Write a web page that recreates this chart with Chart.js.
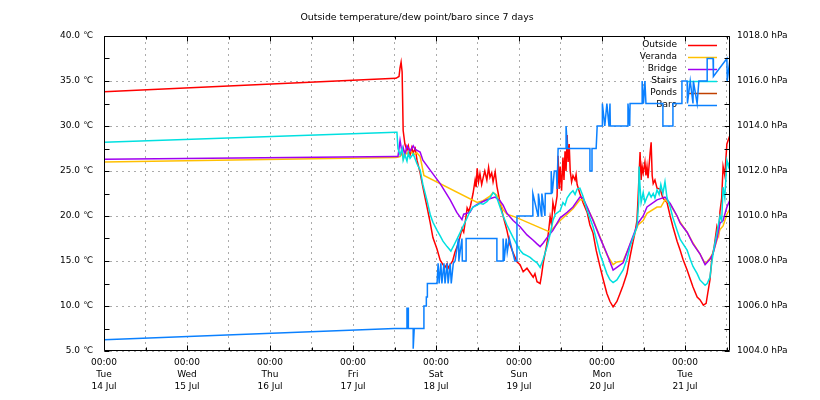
<!DOCTYPE html>
<html>
<head>
<meta charset="utf-8">
<script src="https://cdn.jsdelivr.net/npm/chart.js@4.4.1/dist/chart.umd.min.js"></script>
<style>
body { margin: 0; background: #fff; }
</style>
</head>
<body>
<canvas id="chart" width="820" height="400"></canvas>
<script>
// hours since Tue 14 Jul 00:00
var outsideHours = [0, 84.4, 85.3, 85.6, 85.9, 86.2, 86.5, 87.0, 87.6, 88.0, 88.5, 89.0, 89.4, 90.0, 90.5, 91.4, 92.2, 93.4, 94.3, 95.1, 96.3, 97.2, 98.0, 98.6, 99.2, 99.5, 100.1, 100.8, 101.5, 102.3, 102.9, 103.5, 104.0, 104.7, 105.0, 105.5, 106.0, 106.7, 107.3, 107.6, 107.9, 108.3, 108.7, 109.2, 109.6, 110.1, 110.7, 111.2, 111.6, 112.1, 112.5, 113.1, 113.6, 114.5, 115.4, 116.5, 117.4, 118.3, 119.4, 120.3, 121.2, 122.3, 123.2, 124.1, 124.6, 125.2, 126.1, 126.5, 127.0, 127.6, 128.1, 128.6, 129.0, 129.4, 129.8, 130.3, 131.0, 131.3, 131.6, 131.9, 132.3, 132.7, 133.0, 133.3, 133.6, 133.9, 134.2, 134.5, 134.8, 135.2, 135.6, 136.2, 136.5, 136.8, 137.6, 138.5, 139.7, 140.5, 141.4, 142.3, 143.4, 144.3, 145.4, 146.3, 147.2, 148.3, 149.2, 150.1, 151.2, 152.1, 153.0, 153.5, 154.1, 154.4, 154.7, 155.0, 155.3, 155.6, 155.9, 156.4, 156.7, 157.0, 157.3, 157.9, 158.2, 158.5, 158.8, 159.3, 159.9, 160.8, 161.6, 162.8, 163.7, 164.5, 165.7, 166.6, 167.4, 168.6, 169.5, 170.3, 171.5, 172.3, 173.3, 174.1, 174.6, 175.2, 175.8, 176.4, 177.2, 177.7, 178.1, 178.6, 179.0, 179.5, 180.1, 181.0];
var outsideTemp = [33.8, 35.3, 35.5, 36.5, 37.1, 36.0, 29.5, 28.0, 27.3, 27.8, 26.8, 27.6, 27.0, 27.5, 26.2, 24.8, 23.2, 21.0, 19.3, 17.6, 16.3, 15.1, 14.6, 14.3, 14.7, 14.2, 14.6, 15.0, 16.0, 16.8, 17.6, 18.6, 18.2, 20.0, 20.9, 20.5, 21.2, 22.5, 24.0, 23.2, 25.3, 23.8, 24.7, 23.5, 24.2, 25.0, 24.0, 25.4, 24.3, 24.8, 23.8, 24.9, 23.3, 21.5, 20.0, 18.4, 16.8, 15.9, 14.9, 14.6, 13.8, 14.2, 13.7, 13.2, 13.6, 12.7, 12.5, 13.4, 14.8, 16.0, 17.0, 18.5, 19.9, 19.0, 21.5, 20.5, 22.2, 26.7, 23.0, 25.5, 22.8, 26.5, 24.0, 27.2, 25.0, 29.0, 26.0, 28.0, 25.0, 23.8, 24.5, 24.0, 24.6, 23.5, 22.5, 21.5, 20.4, 19.0, 18.1, 16.2, 14.4, 13.0, 11.4, 10.5, 9.9, 10.5, 11.4, 12.3, 13.6, 15.5, 17.2, 18.1, 19.5, 21.8, 24.5, 27.1, 24.0, 25.5, 24.8, 26.0, 24.5, 25.5, 24.2, 27.0, 28.2, 24.5, 23.6, 24.0, 23.1, 23.0, 22.0, 21.5, 20.0, 18.8, 17.2, 16.2, 15.2, 14.0, 13.0, 12.1, 11.0, 10.7, 10.1, 10.3, 11.5, 12.9, 15.5, 16.5, 18.8, 18.0, 20.5, 22.0, 25.5, 24.5, 28.0, 29.0];

var verandaHours = [0, 84.4, 85.6, 86.2, 86.5, 87.0, 87.6, 88.5, 89.4, 90.5, 91.4, 92.5, 107.9, 109.6, 111.6, 112.5, 113.6, 114.5, 115.4, 116.5, 118.8, 129.0, 129.8, 131.9, 133.9, 135.6, 137.6, 138.5, 139.7, 141.4, 143.4, 145.4, 147.2, 148.3, 150.1, 152.1, 154.4, 155.9, 157.0, 159.9, 161.0, 162.2, 163.7, 165.7, 166.6, 168.6, 170.3, 172.3, 173.8, 175.2, 176.1, 177.2, 178.1, 179.0, 180.1, 181.0];
var verandaTemp = [26.0, 26.5, 26.6, 27.0, 26.4, 27.2, 26.9, 27.3, 26.8, 27.0, 26.6, 24.5, 21.5, 21.7, 22.2, 22.6, 22.3, 21.5, 20.7, 20.2, 19.9, 18.2, 18.6, 19.5, 20.2, 20.8, 21.8, 21.8, 20.9, 19.6, 17.7, 15.7, 14.6, 14.9, 15.0, 16.8, 19.0, 19.5, 20.3, 21.0, 21.0, 21.8, 21.3, 20.0, 19.3, 18.2, 17.0, 15.8, 14.7, 15.3, 15.9, 17.3, 18.5, 18.9, 20.2, 20.8];

var bridgeHours = [0, 84.4, 85.0, 85.6, 86.2, 86.5, 87.0, 87.6, 88.5, 89.4, 90.0, 90.5, 91.4, 92.2, 94.3, 97.2, 100.1, 102.0, 103.5, 104.0, 105.8, 106.7, 107.9, 109.0, 110.7, 112.2, 113.1, 114.5, 115.4, 116.5, 118.3, 120.3, 122.3, 124.1, 125.2, 126.1, 127.0, 128.1, 129.8, 131.9, 133.9, 135.6, 137.6, 138.5, 139.7, 141.4, 143.4, 145.4, 147.2, 148.3, 150.1, 152.1, 154.4, 155.9, 157.0, 159.9, 162.2, 163.7, 165.7, 166.6, 168.6, 170.3, 172.3, 173.8, 175.2, 176.1, 177.2, 178.1, 179.0, 180.1, 181.0];
var bridgeTemp = [26.3, 26.6, 26.6, 28.4, 27.0, 27.6, 26.8, 27.8, 27.2, 27.8, 27.4, 27.3, 27.1, 26.2, 25.1, 23.6, 21.8, 20.4, 19.6, 20.2, 20.4, 21.0, 21.3, 21.5, 21.8, 22.0, 22.1, 21.7, 21.2, 20.3, 19.5, 18.8, 17.9, 17.3, 16.9, 16.6, 17.0, 17.6, 18.4, 19.8, 20.4, 21.0, 22.1, 22.0, 21.0, 19.5, 17.6, 15.8, 14.0, 14.3, 14.8, 16.9, 19.2, 20.0, 21.0, 21.8, 22.1, 21.4, 20.0, 19.2, 18.2, 16.9, 15.8, 14.6, 15.2, 15.8, 17.5, 19.2, 19.5, 21.0, 21.8];

var stairsHours = [0, 84.4, 84.7, 85.0, 85.6, 86.2, 86.5, 87.0, 87.6, 88.0, 88.5, 89.4, 90.0, 90.5, 91.4, 92.2, 93.4, 94.3, 95.1, 96.3, 97.2, 98.0, 99.2, 100.3, 101.5, 102.9, 104.0, 105.0, 105.8, 106.7, 107.9, 108.7, 109.6, 110.7, 111.6, 112.5, 113.1, 113.6, 114.5, 115.4, 116.5, 117.4, 118.3, 119.4, 120.3, 121.2, 122.3, 123.2, 124.1, 125.2, 126.1, 127.0, 128.1, 129.0, 129.8, 130.5, 131.9, 132.7, 133.3, 133.9, 134.8, 135.6, 136.2, 136.8, 137.6, 138.5, 139.7, 141.4, 142.3, 143.4, 145.4, 146.3, 147.2, 148.3, 150.1, 151.2, 152.1, 153.0, 154.1, 154.6, 154.7, 155.0, 155.3, 155.9, 156.4, 157.0, 157.6, 158.2, 158.8, 159.3, 159.9, 160.5, 161.0, 161.3, 161.6, 162.2, 162.8, 163.7, 164.5, 165.7, 166.6, 168.6, 169.5, 170.3, 171.5, 172.3, 173.8, 174.4, 175.2, 175.8, 176.4, 177.2, 178.1, 178.6, 179.0, 179.5, 180.1, 180.6, 181.0];
var stairsTemp = [28.2, 29.3, 29.3, 27.5, 26.8, 27.5, 26.2, 26.8, 26.1, 27.0, 26.4, 26.9, 26.3, 25.8, 25.1, 23.5, 21.7, 20.2, 19.3, 18.4, 17.8, 17.2, 16.6, 16.1, 17.0, 18.1, 19.0, 19.8, 20.5, 21.0, 21.2, 21.4, 21.3, 21.6, 22.0, 22.6, 22.4, 22.0, 21.0, 20.0, 19.0, 18.3, 17.6, 16.8, 16.2, 15.8, 15.6, 15.4, 15.1, 14.8, 14.3, 15.2, 16.6, 18.0, 19.5, 20.2, 20.6, 21.5, 21.2, 22.0, 22.5, 22.8, 22.4, 23.0, 23.1, 22.2, 20.6, 18.8, 17.5, 15.8, 13.6, 12.9, 12.6, 12.9, 14.0, 15.2, 16.6, 17.6, 18.8, 21.5, 25.5, 23.2, 21.5, 22.6, 21.5, 22.1, 22.6, 22.1, 22.5, 22.0, 22.9, 22.4, 23.5, 23.0, 22.5, 23.8, 22.0, 21.0, 19.8, 18.4, 17.4, 16.2, 15.2, 14.4, 13.6, 12.9, 12.3, 12.5, 13.2, 15.0, 16.5, 18.1, 20.0, 19.5, 23.2, 22.0, 26.2, 25.5, 26.2];

var pondsHours = [];
var pondsTemp = [];

var baroHours = [0, 84.0, 87.6, 87.6, 88.0, 88.0, 89.4, 89.4, 89.7, 92.5, 92.5, 93.2, 93.2, 93.5, 93.5, 96.3, 96.6, 96.9, 97.4, 97.7, 98.3, 98.6, 99.2, 99.5, 100.1, 100.4, 101.0, 101.5, 102.5, 102.6, 103.5, 103.6, 104.7, 104.7, 113.6, 113.6, 115.4, 115.4, 115.7, 116.3, 116.6, 117.2, 118.8, 119.4, 119.4, 124.0, 124.0, 125.5, 125.6, 126.5, 126.6, 127.5, 127.6, 129.3, 129.3, 129.6, 130.2, 130.8, 131.0, 131.3, 133.6, 133.6, 134.0, 140.5, 140.5, 141.1, 141.1, 142.3, 142.6, 144.0, 144.1, 144.8, 145.4, 146.0, 146.3, 146.4, 151.5, 151.5, 152.0, 152.1, 155.6, 155.6, 156.0, 156.4, 156.7, 157.3, 157.4, 161.6, 161.6, 164.5, 164.5, 167.1, 167.1, 168.6, 168.7, 169.5, 170.3, 170.4, 171.5, 172.0, 174.4, 174.4, 176.1, 176.2, 180.1, 180.2, 181.0];
var baroHpa = [1004.5, 1005.0, 1005.0, 1005.9, 1005.9, 1005.0, 1005.0, 1004.1, 1005.0, 1005.0, 1006.0, 1006.0, 1006.4, 1006.4, 1007.0, 1007.0, 1007.9, 1007.0, 1007.9, 1007.0, 1007.9, 1007.0, 1007.9, 1007.0, 1007.9, 1007.0, 1007.9, 1008.0, 1009.0, 1008.0, 1009.0, 1008.0, 1008.0, 1009.0, 1009.0, 1008.0, 1008.0, 1009.0, 1008.0, 1009.0, 1008.4, 1009.0, 1008.0, 1008.0, 1010.0, 1010.0, 1011.0, 1010.0, 1011.0, 1010.0, 1011.0, 1010.0, 1011.0, 1011.0, 1012.0, 1011.0, 1012.0, 1012.0, 1011.2, 1013.0, 1013.0, 1014.0, 1013.0, 1013.0, 1012.0, 1012.0, 1013.0, 1013.0, 1014.0, 1014.0, 1015.0, 1014.0, 1015.0, 1014.0, 1015.0, 1014.0, 1014.0, 1015.0, 1014.0, 1015.0, 1015.0, 1016.0, 1015.0, 1016.0, 1015.0, 1015.0, 1015.0, 1015.0, 1014.0, 1014.0, 1015.0, 1015.0, 1016.0, 1016.0, 1015.0, 1016.0, 1015.0, 1016.0, 1015.0, 1016.0, 1016.0, 1017.0, 1017.0, 1016.2, 1017.0, 1016.0, 1017.0];

var dayNames = ['Tue', 'Wed', 'Thu', 'Fri', 'Sat', 'Sun', 'Mon', 'Tue'];
var dayDates = ['14 Jul', '15 Jul', '16 Jul', '17 Jul', '18 Jul', '19 Jul', '20 Jul', '21 Jul'];
var xTickHours = [0, 12, 24, 36, 48, 60, 72, 84, 96, 108, 120, 132, 144, 156, 168, 180];
var tempTicks = [5, 10, 15, 20, 25, 30, 35, 40];
var baroTicks = [1004, 1006, 1008, 1010, 1012, 1014, 1016, 1018];

var seriesNames = ['Outside', 'Veranda', 'Bridge', 'Stairs', 'Ponds', 'Baro'];
var seriesColors = ['#ff0000', '#ffc000', '#a000f0', '#00e0e0', '#c04000', '#0a80ff'];

var FONT = 'DejaVu Sans';

function pts(xs, ys) {
	return xs.map(function(x, i) { return {x: x, y: ys[i]}; });
}

function line(idx, xs, ys, axis) {
	return {
		label: seriesNames[idx],
		data: pts(xs, ys),
		borderColor: seriesColors[idx],
		borderWidth: 1.5,
		pointRadius: 0,
		tension: 0,
		fill: false,
		yAxisID: axis,
		order: 5 - idx
	};
}

// gnuplot style frame with inward ticks
var framePlugin = {
	id: 'frame',
	afterDatasetsDraw: function(chart) {
		var ctx = chart.ctx, a = chart.chartArea, s = chart.scales;
		var L = Math.round(a.left) + 0.5, R = Math.round(a.right) - 0.5;
		var T = Math.round(a.top) + 0.5, B = Math.round(a.bottom) - 0.5;
		ctx.save();
		ctx.strokeStyle = '#000';
		ctx.lineWidth = 1;
		ctx.beginPath();
		ctx.rect(L, T, R - L, B - T);
		xTickHours.forEach(function(h) {
			var px = Math.round(s.x.getPixelForValue(h)) + 0.5;
			var len = (h % 24 === 0) ? 5 : 3;
			ctx.moveTo(px, B); ctx.lineTo(px, B - len);
			ctx.moveTo(px, T); ctx.lineTo(px, T + len);
		});
		for (var t = 5; t <= 40; t += 2.5) {
			var py = Math.round(s.y.getPixelForValue(t)) + 0.5;
			ctx.moveTo(L, py); ctx.lineTo(L + 5, py);
		}
		for (var p = 1004; p <= 1018; p += 1) {
			var py2 = Math.round(s.y2.getPixelForValue(p)) + 0.5;
			ctx.moveTo(R, py2); ctx.lineTo(R - 5, py2);
		}
		ctx.stroke();

		ctx.fillStyle = '#000';
		ctx.font = '9.4px "' + FONT + '"';
		ctx.textAlign = 'center';
		ctx.textBaseline = 'middle';
		ctx.fillText('Outside temperature/dew point/baro since 7 days', (a.left + a.right) / 2, 18);
		ctx.restore();
	},
	beforeDatasetsDraw: function(chart) {
		var ctx = chart.ctx;
		ctx.save();
		ctx.font = '9px "' + FONT + '"';
		ctx.textAlign = 'right';
		ctx.textBaseline = 'middle';
		seriesNames.forEach(function(n, i) {
			var y = 45 + i * 12;
			ctx.fillStyle = '#000';
			ctx.fillText(n, 677, y);
			ctx.strokeStyle = seriesColors[i];
			ctx.lineWidth = 1.5;
			ctx.beginPath();
			ctx.moveTo(688, y + 0.5);
			ctx.lineTo(717, y + 0.5);
			ctx.stroke();
		});
		ctx.restore();
	}
};

var gridColor = '#ababab';

new Chart(document.getElementById('chart'), {
	type: 'line',
	data: {
		datasets: [
			line(0, outsideHours, outsideTemp, 'y'),
			line(1, verandaHours, verandaTemp, 'y'),
			line(2, bridgeHours, bridgeTemp, 'y'),
			line(3, stairsHours, stairsTemp, 'y'),
			line(4, pondsHours, pondsTemp, 'y'),
			line(5, baroHours, baroHpa, 'y2')
		]
	},
	options: {
		responsive: false,
		animation: false,
		layout: { padding: { top: 36, left: 0, right: 0, bottom: 0 } },
		plugins: { legend: { display: false }, tooltip: { enabled: false }, title: { display: false } },
		scales: {
			x: {
				type: 'linear',
				min: 0,
				max: 181,
				afterBuildTicks: function(scale) {
					scale.ticks = xTickHours.map(function(v) { return {value: v}; });
				},
				afterFit: function(scale) { scale.height = 49; },
				grid: { color: gridColor, lineWidth: 1, drawTicks: false },
				border: { display: false, dash: [2, 4] },
				ticks: {
					autoSkip: false,
					maxRotation: 0,
					padding: 6,
					color: '#000',
					font: { family: FONT, size: 9, lineHeight: '12px' },
					callback: function(v) {
						if (v % 24 !== 0) return '';
						var d = v / 24;
						return ['00:00', dayNames[d], dayDates[d]];
					}
				}
			},
			y: {
				position: 'left',
				min: 5,
				max: 40,
				afterBuildTicks: function(scale) {
					scale.ticks = tempTicks.map(function(v) { return {value: v}; });
				},
				afterFit: function(scale) { scale.width = 104; },
				grid: { color: gridColor, lineWidth: 1, drawTicks: false },
				border: { display: false, dash: [2, 4] },
				ticks: {
					padding: 11,
					color: '#000',
					font: { family: FONT, size: 9 },
					callback: function(v) { return v.toFixed(1) + ' \u2103'; }
				}
			},
			y2: {
				position: 'right',
				min: 1004,
				max: 1018,
				afterBuildTicks: function(scale) {
					scale.ticks = baroTicks.map(function(v) { return {value: v}; });
				},
				afterFit: function(scale) { scale.width = 90; },
				grid: { drawOnChartArea: false, drawTicks: false },
				border: { display: false },
				ticks: {
					padding: 7,
					color: '#000',
					font: { family: FONT, size: 9 },
					callback: function(v) { return v.toFixed(1) + ' hPa'; }
				}
			}
		}
	},
	plugins: [framePlugin]
});
</script>
</body>
</html>
